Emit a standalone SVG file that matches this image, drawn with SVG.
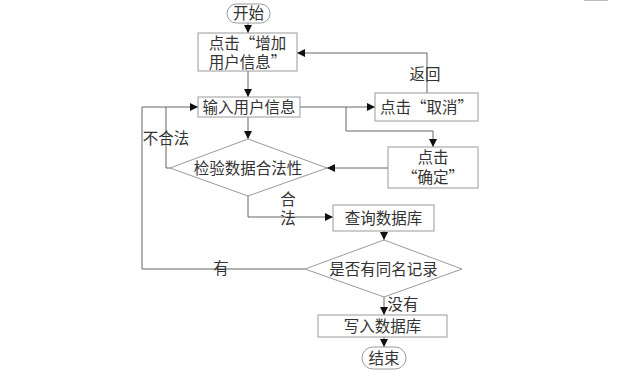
<svg xmlns="http://www.w3.org/2000/svg" width="636" height="376" viewBox="0 0 636 376">
<style>
.box{fill:#fff;stroke:#9a9a9a;stroke-width:1}
.t{font-family:"Noto Sans CJK SC","Noto Sans",sans-serif;font-size:15.5px;fill:#333;text-anchor:middle}
.c{fill:none;stroke:#666;stroke-width:1}
</style>
<defs>
<marker id="ar" viewBox="0 0 8 8" refX="8" refY="4" markerWidth="8" markerHeight="8" markerUnits="userSpaceOnUse" orient="auto">
<path d="M0,0 L8,4 L0,8 z" fill="#111"/>
</marker>
</defs>
<rect width="636" height="376" fill="#fff"/>
<line x1="584" y1="0.5" x2="608" y2="0.5" stroke="#bbb" stroke-width="1"/>
<g id="connectors">
<path class="c" d="M248,23 V33" marker-end="url(#ar)"/>
<path class="c" d="M248,71 V97" marker-end="url(#ar)"/>
<path class="c" d="M248,117 V139" marker-end="url(#ar)"/>
<path class="c" d="M300,107 H375" marker-end="url(#ar)"/>
<path class="c" d="M346,107 V131 H433 V147" marker-end="url(#ar)"/>
<path class="c" d="M427,93 V53 H297" marker-end="url(#ar)"/>
<path class="c" d="M388,168 H327" marker-end="url(#ar)"/>
<path class="c" d="M170,168 H166 V107"/>
<path class="c" d="M305,269 H142 V107 H198" marker-end="url(#ar)"/>
<path class="c" d="M248,196 V217 H333" marker-end="url(#ar)"/>
<path class="c" d="M384,231 V240" marker-end="url(#ar)"/>
<path class="c" d="M384,297 V315" marker-end="url(#ar)"/>
<path class="c" d="M384,337 V347" marker-end="url(#ar)"/>
<text class="t" x="425" y="80">返回</text>
<text class="t" x="166" y="144">不合法</text>
<text class="t" x="288" y="205">合</text>
<text class="t" x="288" y="224">法</text>
<text class="t" x="221" y="274">有</text>
<text class="t" x="403" y="310">没有</text>
</g>
<g id="start">
<rect class="box" x="227" y="4" width="43" height="19" rx="9.5" ry="9.5"/>
<text class="t" x="248.5" y="19">开始</text>
</g>
<g id="add-user">
<rect class="box" x="198" y="33" width="99" height="38"/>
<text class="t" x="247.5" y="48.5">点击“增加</text>
<text class="t" x="247.5" y="68">用户信息”</text>
</g>
<g id="input-user">
<rect class="box" x="198" y="97" width="102" height="20"/>
<text class="t" x="249" y="112.5">输入用户信息</text>
</g>
<g id="cancel">
<rect class="box" x="375" y="93" width="103" height="28"/>
<text class="t" x="426.5" y="112.5">点击“取消”</text>
</g>
<g id="confirm">
<rect class="box" x="388" y="147" width="90" height="41"/>
<text class="t" x="433" y="162.5">点击</text>
<text class="t" x="433" y="182.5">“确定”</text>
</g>
<g id="validate">
<polygon class="box" points="248,139 327,168 248,196 170,168"/>
<text class="t" x="248" y="173.5">检验数据合法性</text>
</g>
<g id="query-db">
<rect class="box" x="333" y="205" width="101" height="26"/>
<text class="t" x="383.5" y="223.5">查询数据库</text>
</g>
<g id="same-name">
<polygon class="box" points="384,240 462,269 384,297 305,269"/>
<text class="t" x="383.5" y="274.5">是否有同名记录</text>
</g>
<g id="write-db">
<rect class="box" x="318" y="315" width="129" height="22"/>
<text class="t" x="382.5" y="331.5">写入数据库</text>
</g>
<g id="end">
<rect class="box" x="362" y="347" width="44" height="22" rx="11" ry="11"/>
<text class="t" x="384" y="363.5">结束</text>
</g>
</svg>
